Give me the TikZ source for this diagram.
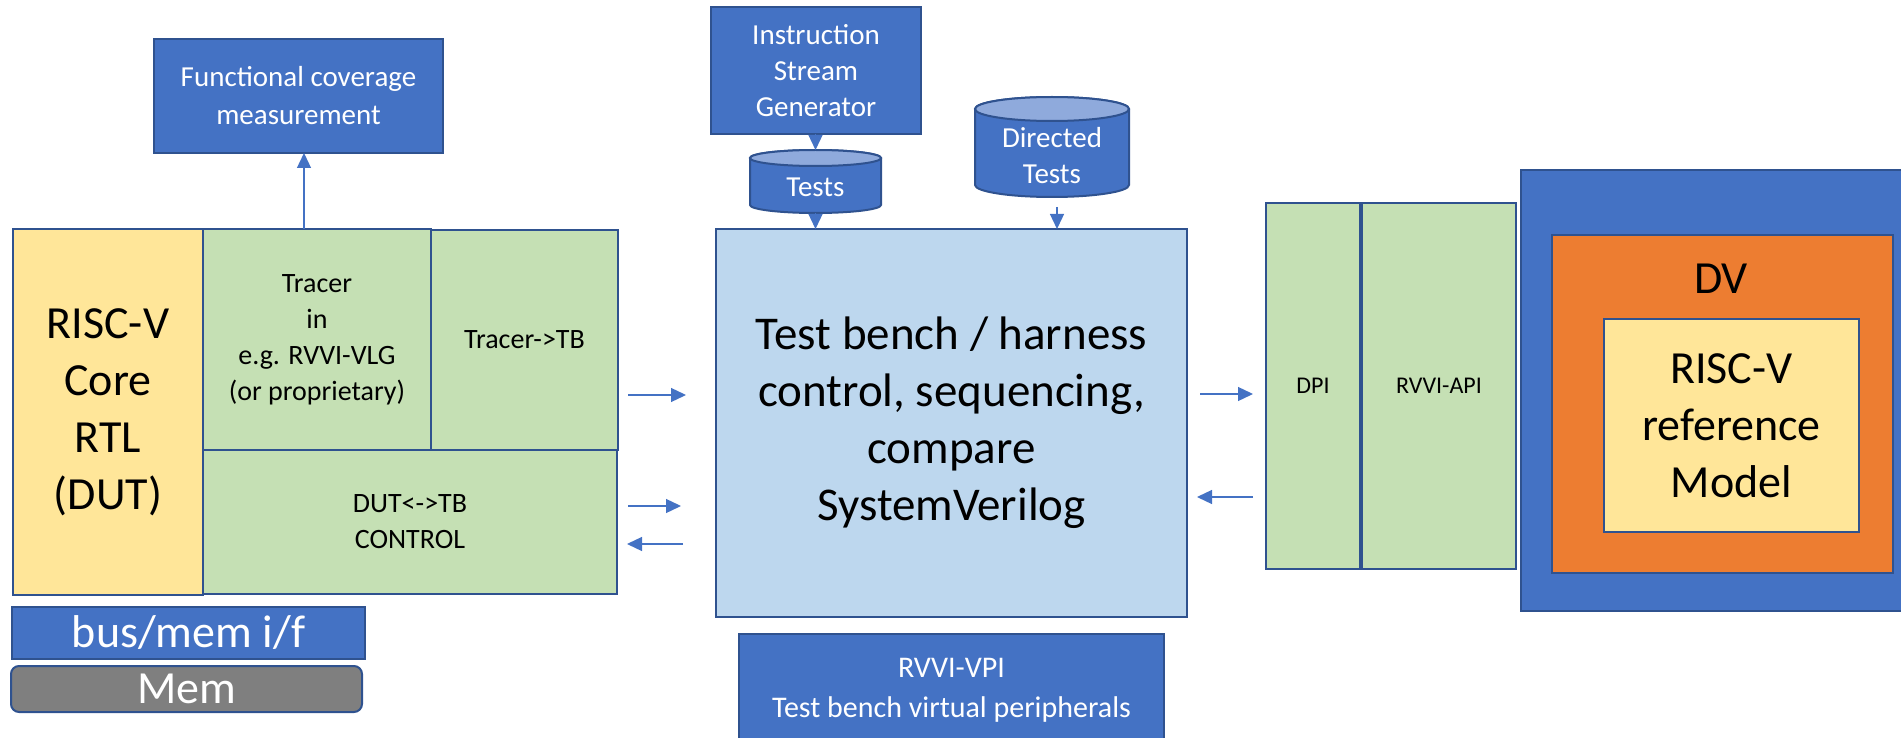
\documentclass[tikz,border=0pt]{standalone}
\usepackage{fontspec}
\setmainfont{Carlito}
\usetikzlibrary{arrows.meta}
\definecolor{cblue}{HTML}{4472C4}
\definecolor{cborder}{HTML}{2F528F}
\definecolor{cgreen}{HTML}{C5E0B4}
\definecolor{cyellow}{HTML}{FFE699}
\definecolor{clight}{HTML}{BDD7EE}
\definecolor{corange}{HTML}{ED7D31}
\definecolor{cgray}{HTML}{7F7F7F}
\definecolor{ctop}{HTML}{8FAADC}
\tikzset{
  box/.style={draw=cborder, line width=2pt, inner sep=0pt, outer sep=0pt, anchor=north west, align=center},
  bluebox/.style={box, fill=cblue, text=white},
  greenbox/.style={box, fill=cgreen},
  yellowbox/.style={box, fill=cyellow},
  bigtxt/.style={font=\fontsize{46}{57}\selectfont},
  midtxt/.style={font=\fontsize{28}{36}\selectfont},
  smalltxt/.style={font=\fontsize{24}{30}\selectfont},
  arr/.style={draw=cblue, line width=1.3pt, -{Triangle[length=15pt,width=14pt]}},
  cylbody/.style={draw=cborder, line width=2pt, fill=cblue},
  cyltop/.style={draw=cborder, line width=2pt, fill=ctop},
}
\begin{document}
\begin{tikzpicture}[x=1pt,y=-1pt]
\path[use as bounding box] (0,0) rectangle (1901,738);
\clip (0,0) rectangle (1901,738);

% left block
\node[bluebox, midtxt, font=\fontsize{29}{38}\selectfont, minimum width=289pt, minimum height=114pt] (fc) at (154,39) {Functional coverage\\measurement};
\node[yellowbox, bigtxt, minimum width=190pt, minimum height=366pt] (core) at (13,229) {RISC-V\\Core\\RTL\\(DUT)};
\node[greenbox, midtxt, minimum width=228pt, minimum height=221pt] (tracer) at (203,229) {Tracer\\in\\e.g. RVVI-VLG\\(or proprietary)};
\node[greenbox, midtxt, minimum width=187pt, minimum height=220pt] (ttb) at (431,230) {Tracer->TB};
\node[greenbox, midtxt, minimum width=414pt, minimum height=144pt] (dut) at (203,450) {DUT<->TB\\CONTROL};
\node[bluebox, bigtxt, minimum width=353pt, minimum height=52pt] (bus) at (12,607) {bus/mem i/f};
\node[box, bigtxt, fill=cgray, text=white, rounded corners=8pt, minimum width=351pt, minimum height=46pt] (mem) at (11,666) {Mem};

% centre block
\node[bluebox, font=\fontsize{29}{36}\selectfont, minimum width=210pt, minimum height=127pt] (isg) at (711,7) {Instruction\\Stream\\Generator};
\node[box, fill=clight, font=\fontsize{47}{57}\selectfont, minimum width=471pt, minimum height=388pt] (tb) at (716,229) {Test bench / harness\\control, sequencing,\\compare\\SystemVerilog};
\node[bluebox, font=\fontsize{30}{40}\selectfont, minimum width=425pt, minimum height=112pt] (vpi) at (739,634) {RVVI-VPI\\Test bench virtual peripherals};

% cylinders
\node[inner sep=0pt, outer sep=0pt, anchor=north west, minimum width=131pt, minimum height=63pt] (tests) at (750,150) {};
\draw[cylbody] (750,158) -- (750,205) arc[start angle=180, end angle=0, x radius=65.5, y radius=8] -- (881,158) arc[start angle=0, end angle=-180, x radius=65.5, y radius=8] -- cycle;
\draw[cyltop] (815.5,158) ellipse [x radius=65.5, y radius=8];
\node[text=white, font=\fontsize{29}{36}\selectfont] (teststxt) at (815.5,187) {Tests};

\node[inner sep=0pt, outer sep=0pt, anchor=north west, minimum width=154pt, minimum height=100pt] (dir) at (975,97) {};
\draw[cylbody] (975,109) -- (975,185) arc[start angle=180, end angle=0, x radius=77, y radius=12] -- (1129,109) arc[start angle=0, end angle=-180, x radius=77, y radius=12] -- cycle;
\draw[cyltop] (1052,109) ellipse [x radius=77, y radius=12];
\node[text=white, align=center, font=\fontsize{29}{36}\selectfont] (dirtxt) at (1052,156) {Directed\\Tests};

% right block
\node[greenbox, smalltxt, minimum width=94pt, minimum height=366pt] (dpi) at (1266,203) {DPI};
\node[greenbox, smalltxt, minimum width=154pt, minimum height=366pt] (api) at (1362,203) {RVVI-API};
\node[box, fill=cblue, minimum width=389pt, minimum height=441pt] (outer) at (1521,170) {};
\node[box, fill=corange, minimum width=341pt, minimum height=338pt] (dv) at (1552,235) {};
\node[bigtxt] (dvtxt) at (1721,279) {DV};
\node[yellowbox, bigtxt, minimum width=255pt, minimum height=213pt] (ref) at (1604,319) {RISC-V\\reference\\Model};

% helper coordinates
\coordinate (xfc) at (304,0);
\coordinate (xdir) at (1057,0);
\coordinate (ya) at (0,395);
\coordinate (yb) at (0,506);
\coordinate (yc) at (0,544);
\coordinate (yd) at (0,394);
\coordinate (ye) at (0,497);

% connectors
\draw[arr] (tracer.north -| xfc) -- (fc.south -| xfc);
\draw[arr] (isg.south -| tests.north) -- (tests.north);
\draw[arr] (tests.south) -- (tb.north -| tests.south);
\draw[arr, shorten <=10pt] (dir.south -| xdir) -- (tb.north -| xdir);
\draw[arr, shorten <=10pt, shorten >=30pt] (ttb.east |- ya) -- (tb.west |- ya);
\draw[arr, shorten <=11pt, shorten >=35pt] (dut.east |- yb) -- (tb.west |- yb);
\draw[arr, shorten <=33pt, shorten >=10pt] (tb.west |- yc) -- (dut.east |- yc);
\draw[arr, shorten <=13pt, shorten >=13pt] (tb.east |- yd) -- (dpi.west |- yd);
\draw[arr, shorten <=13pt, shorten >=10pt] (dpi.west |- ye) -- (tb.east |- ye);
\end{tikzpicture}
\end{document}
